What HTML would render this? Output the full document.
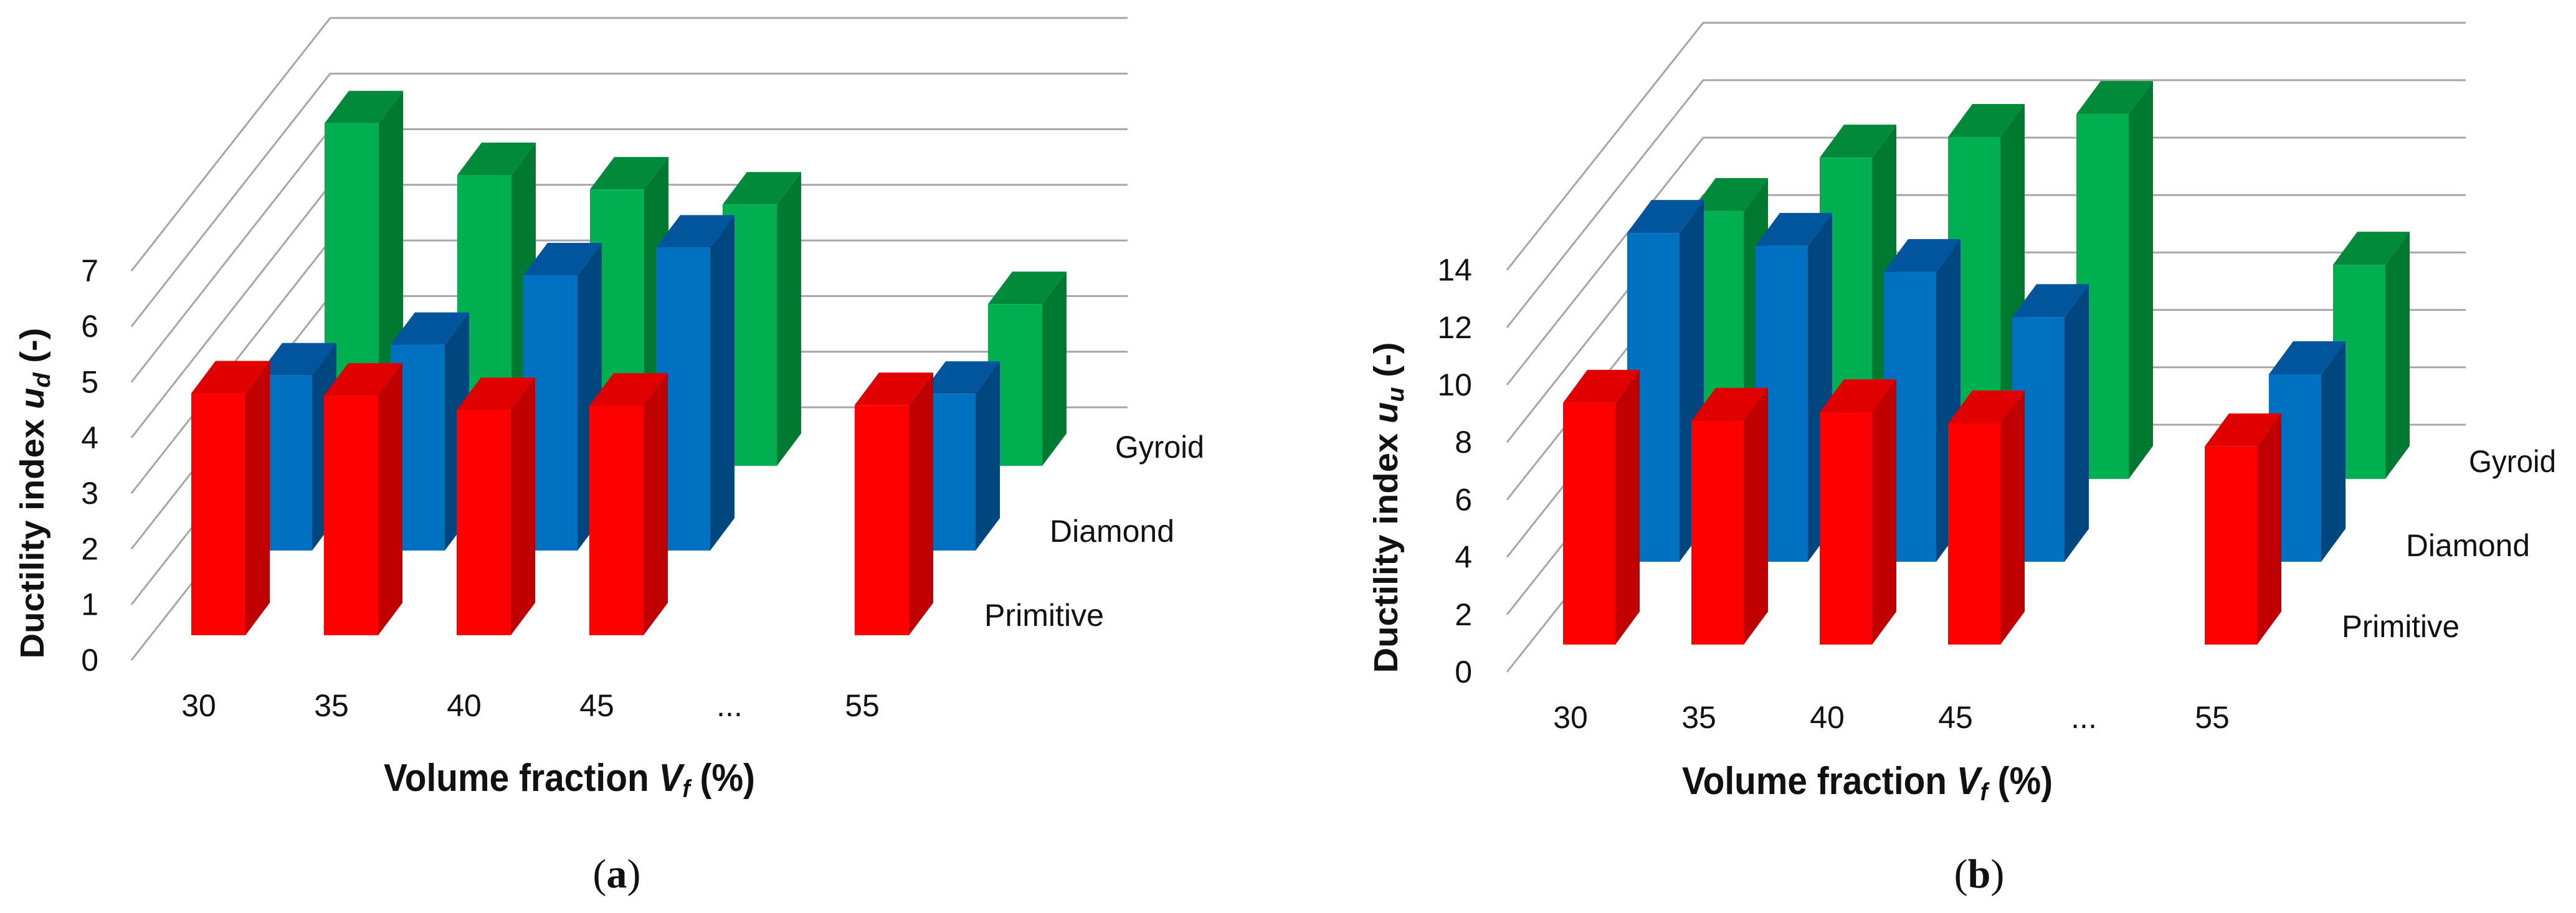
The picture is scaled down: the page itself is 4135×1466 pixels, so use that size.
<!DOCTYPE html>
<html><head><meta charset="utf-8">
<style>
html,body{margin:0;padding:0;background:#fff;}
svg{display:block;}
text{font-family:"Liberation Sans",sans-serif;fill:#111;}
</style></head>
<body>
<svg id="fig" width="4135" height="1466" viewBox="0 0 4135 1466" xmlns="http://www.w3.org/2000/svg"></svg>
<script>
const categories = ["30","35","40","45","...","55"];
const seriesNames = ["Primitive","Diamond","Gyroid"];
// chart (a) ductility index u_d
const aPrimitive = [4.35,4.31,4.05,4.13,null,4.14];
const aDiamond   = [3.15,3.70,4.95,5.45,null,2.82];
const aGyroid    = [6.16,5.23,4.97,4.70,null,2.91];
const aTicks = [0,1,2,3,4,5,6,7];
// chart (b) ductility index u_u
const bPrimitive = [8.42,7.79,8.09,7.70,null,6.90];
const bDiamond   = [11.45,11.0,10.09,8.52,null,6.53];
const bGyroid    = [9.33,11.19,11.91,12.71,null,7.46];
const bTicks = [0,2,4,6,8,10,12,14];

const NS="http://www.w3.org/2000/svg";
const svg=document.getElementById('fig');
function mk(tag,attrs,parent){const e=document.createElementNS(NS,tag);for(const k in attrs)e.setAttribute(k,attrs[k]);(parent||svg).appendChild(e);return e;}

const colors=[
 {front:"#ff0000",side:"#c00000",top:"#e00000"},
 {front:"#0070c0",side:"#00477f",top:"#00559c"},
 {front:"#00b050",side:"#007a30",top:"#008a3a"}
];

function chart(cfg){
  const g=mk('g',{});
  
  
  const grid=mk('g',{},g);
  
  
  cfg.ticks.forEach(t=>{
    const yf=cfg.gy0 - t*cfg.unit;
    const xb=cfg.gx+cfg.gdx, yb=yf+cfg.gdy;
    const pl=mk('polyline',{points:`${cfg.gx},${yf} ${xb},${yb} ${cfg.gxEnd},${yb}`,fill:"none",stroke:"#a6a6a6","stroke-width":3},grid);
    
    
    const tx=mk('text',{x:cfg.tickX,y:yf+17,"text-anchor":"end","font-size":50},g);
    tx.textContent=String(t);
    
    
  });
  for(let r=2;r>=0;r--){
    const vals=cfg.series[r];
    const base=cfg.base + r*cfg.rowDy;
    vals.forEach((v,i)=>{
      if(v===null)return;
      const x=cfg.x0 + i*cfg.spacing + r*cfg.rowDx;
      const yt=base - v*cfg.unit;
      const w=cfg.bw, dx=cfg.ddx, dy=cfg.ddy, c=colors[r];
      const bg=mk('g',{},g);
      
      
      mk('polygon',{points:`${x+w},${yt} ${x+w+dx},${yt+dy} ${x+w+dx},${base+dy} ${x+w},${base}`,fill:c.side},bg);
      mk('polygon',{points:`${x},${yt} ${x+dx},${yt+dy} ${x+w+dx},${yt+dy} ${x+w},${yt}`,fill:c.top},bg);
      mk('rect',{x:x,y:yt,width:w,height:base-yt,fill:c.front},bg);
    });
  }
  categories.forEach((c,i)=>{
    const t=mk('text',{x:cfg.catX0+i*cfg.spacing,y:cfg.catY,"text-anchor":"middle","font-size":50},g);
    t.textContent=c;
    
    
  });
  cfg.seriesLabels.forEach((s,r)=>{
    const t=mk('text',{x:s[0],y:s[1],"font-size":50,textLength:s[2],lengthAdjust:"spacingAndGlyphs"},g);
    t.textContent=seriesNames[r];
    
    
  });
  const xt=mk('text',{x:cfg.xtX,y:cfg.xtY,"font-size":62,"font-weight":"bold",textLength:cfg.xtW,lengthAdjust:"spacingAndGlyphs"},g);
  xt.innerHTML='Volume fraction <tspan font-style="italic">V</tspan><tspan font-style="italic" font-size="40" dy="10">f</tspan><tspan dy="-10"> (%)</tspan>';
  
  
  const yt=mk('text',{x:0,y:0,"font-size":54,"font-weight":"bold","text-anchor":"middle",transform:`translate(${cfg.ytX},${cfg.ytY}) rotate(-90)`,textLength:cfg.ytW,lengthAdjust:"spacingAndGlyphs"},g);
  yt.innerHTML='Ductility index <tspan font-style="italic">u</tspan><tspan font-style="italic" font-size="38" dy="10">'+cfg.sub+'</tspan><tspan dy="-10"> (-)</tspan>';
  
  
  const pl=mk('text',{x:cfg.plX,y:1425,"font-size":66,"text-anchor":"middle"},g);
  pl.setAttribute('style','font-family:"Liberation Serif",serif');
  pl.innerHTML='(<tspan font-weight="bold">'+cfg.letter+'</tspan>)';
  
  
}

chart({name:'chart-a',series:[aPrimitive,aDiamond,aGyroid],ticks:aTicks,unit:89.3,
  gx:211,gy0:1060,gdx:319,gdy:-406,gxEnd:1810,tickX:158,
  x0:307,base:1020,rowDx:107,rowDy:-136,spacing:213,bw:87,ddx:39,ddy:-52,
  catX0:319,catY:1150,
  seriesLabels:[[1580,1005,192],[1685,870,200],[1790,735,143]],
  xtX:616,xtY:1270,xtW:596,ytX:70,ytY:792,ytW:531,sub:'d',plX:990,letter:'a'});

chart({name:'chart-b',series:[bPrimitive,bDiamond,bGyroid],ticks:bTicks,unit:46.1,
  gx:2419,gy0:1079,gdx:315,gdy:-397,gxEnd:3958,tickX:2363,
  x0:2509,base:1035,rowDx:103,rowDy:-133,spacing:206,bw:84,ddx:39,ddy:-53,
  catX0:2521,catY:1169,
  seriesLabels:[[3759,1023,189],[3862,893,199],[3963,758,140]],
  xtX:2700,xtY:1275,xtW:595,ytX:2243,ytY:815,ytW:531,sub:'u',plX:3177,letter:'b'});
</script>
</body></html>
